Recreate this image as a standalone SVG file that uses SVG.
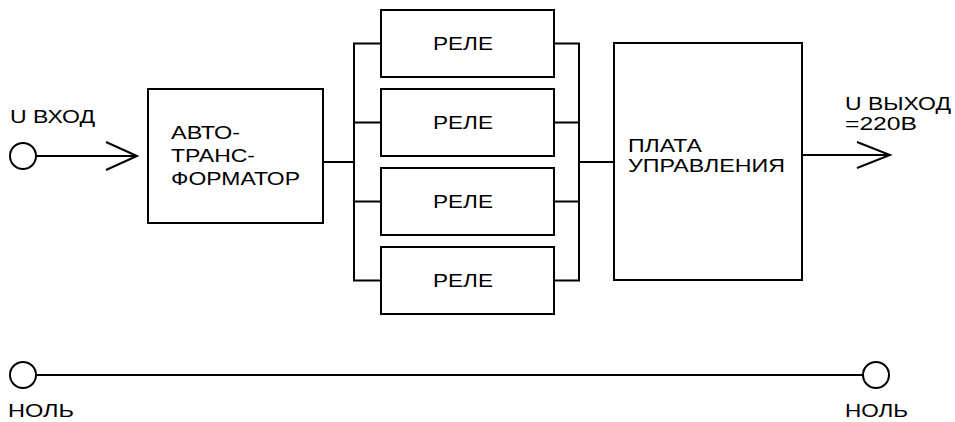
<svg xmlns="http://www.w3.org/2000/svg" width="955" height="422" viewBox="0 0 955 422">
<style>
.box{fill:#fff;stroke:#000;stroke-width:2}
.ln{fill:none;stroke:#000;stroke-width:2;stroke-linejoin:miter}
.term{fill:#fff;stroke:#000;stroke-width:2}
text{font-family:"Liberation Sans",Arial,sans-serif;font-size:18px;fill:#000}
</style>
<rect width="955" height="422" fill="#fff"/>
<g id="connectors">
<path class="ln" d="M36 156H137M106 142L137 156L106 170"/>
<path class="ln" d="M323 162H354"/>
<path class="ln" d="M381 43.5H354V280.5H381M354 122.5H381M354 201.5H381"/>
<path class="ln" d="M554 43.5H579V280.5H554M579 122.5H554M579 201.5H554"/>
<path class="ln" d="M579 162H614"/>
<path class="ln" d="M802 155H890M857 142L890 155L857 168"/>
<path class="ln" d="M36 375H863"/>
</g>
<g id="input">
<circle class="term" cx="23" cy="156" r="13"/>
<text x="10" y="123" textLength="85" lengthAdjust="spacingAndGlyphs">U ВХОД</text>
</g>
<g id="autotransformer">
<rect class="box" x="148" y="89" width="175" height="134"/>
<text x="171" y="139" textLength="69" lengthAdjust="spacingAndGlyphs">АВТО-</text>
<text x="171" y="162" textLength="84" lengthAdjust="spacingAndGlyphs">ТРАНС-</text>
<text x="171" y="185" textLength="129" lengthAdjust="spacingAndGlyphs">ФОРМАТОР</text>
</g>
<g id="relay1">
<rect class="box" x="381" y="10" width="173" height="67"/>
<text x="433" y="50" textLength="60" lengthAdjust="spacingAndGlyphs">РЕЛЕ</text>
</g>
<g id="relay2">
<rect class="box" x="381" y="89" width="173" height="67"/>
<text x="433" y="129" textLength="60" lengthAdjust="spacingAndGlyphs">РЕЛЕ</text>
</g>
<g id="relay3">
<rect class="box" x="381" y="168" width="173" height="67"/>
<text x="433" y="208" textLength="60" lengthAdjust="spacingAndGlyphs">РЕЛЕ</text>
</g>
<g id="relay4">
<rect class="box" x="381" y="247" width="173" height="67"/>
<text x="433" y="287" textLength="60" lengthAdjust="spacingAndGlyphs">РЕЛЕ</text>
</g>
<g id="control-board">
<rect class="box" x="614" y="43" width="188" height="237"/>
<text x="628" y="152" textLength="74" lengthAdjust="spacingAndGlyphs">ПЛАТА</text>
<text x="628" y="172" textLength="157" lengthAdjust="spacingAndGlyphs">УПРАВЛЕНИЯ</text>
</g>
<g id="output">
<text x="845" y="110" textLength="106" lengthAdjust="spacingAndGlyphs">U ВЫХОД</text>
<text x="845" y="130" textLength="72" lengthAdjust="spacingAndGlyphs">=220В</text>
</g>
<g id="neutral-left">
<circle class="term" cx="23" cy="375" r="13"/>
<text x="8" y="417" textLength="66" lengthAdjust="spacingAndGlyphs">НОЛЬ</text>
</g>
<g id="neutral-right">
<circle class="term" cx="876" cy="375" r="13"/>
<text x="845" y="417" textLength="63" lengthAdjust="spacingAndGlyphs">НОЛЬ</text>
</g>
</svg>
